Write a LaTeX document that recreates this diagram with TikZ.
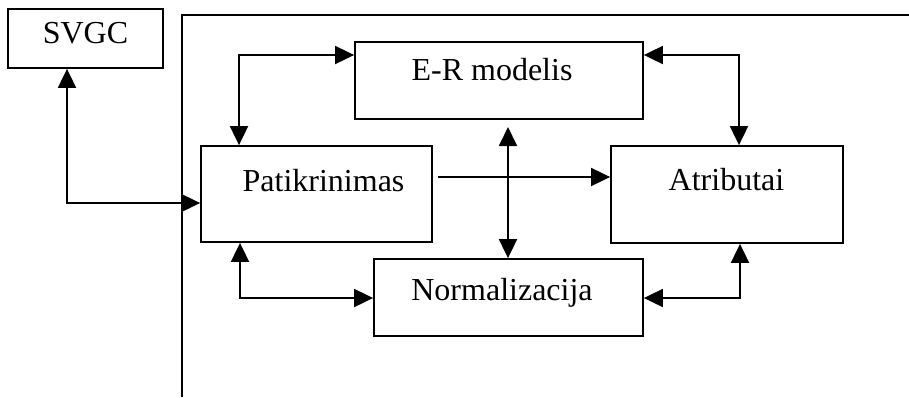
\documentclass[tikz,border=0pt]{standalone}
\usepackage{fontspec}
\setmainfont{Liberation Serif}
\usetikzlibrary{arrows.meta}
\begin{document}
\begin{tikzpicture}[x=1pt,y=-1pt,
  box/.style={draw,line width=1.8pt,rectangle,inner sep=0pt},
  lbl/.style={anchor=base,inner sep=0pt,font=\fontsize{32}{36}\selectfont},
  frame/.style={line width=2.7pt},
  link/.style={line width=1.9pt},
  tip/.tip={Triangle[length=19pt,width=18pt]},
  dbl/.style={link,tip-tip},
  one/.style={link,-tip}]
\useasboundingbox (0,0) rectangle (909,397);

% open outer frame (top and left sides only)
\draw[frame] (182,397) -- (182,15) -- (909,15);

% boxes
\node[box,minimum width=155pt,minimum height=59pt] (svgc) at (85.5,38.5) {};
\node[box,minimum width=288pt,minimum height=77pt] (er) at (499,80.5) {};
\node[box,minimum width=231pt,minimum height=96pt] (pat) at (316.5,194) {};
\node[box,minimum width=232pt,minimum height=97pt] (atr) at (727,194.5) {};
\node[box,minimum width=269pt,minimum height=77pt] (norm) at (508.5,297.5) {};

% labels
\node[lbl] (tsvgc) at (85.5,43) {SVGC};
\node[lbl] (ter) at (492,80) {E-R modelis};
\node[lbl] (tpat) at (323.5,191) {Patikrinimas};
\node[lbl] (tatr) at (726.5,190) {Atributai};
\node[lbl] (tnorm) at (502,300) {Normalizacija};

% bend points of the connectors
\coordinate (b1) at (67,203);
\coordinate (b2) at (239,55);
\coordinate (b3) at (739,55);
\coordinate (b6) at (240,298);
\coordinate (b7) at (740,298);
\coordinate (hstart) at (438,177);
\coordinate (vtop) at (508,127);

% connectors
\draw[dbl] (b1 |- svgc.south) -- (b1) -- (pat.west |- b1);
\draw[dbl] (b2 |- pat.north) -- (b2) -- (er.west |- b2);
\draw[dbl] (er.east |- b3) -- (b3) -- (b3 |- atr.north);
\draw[dbl] (b6 |- pat.south) -- (b6) -- (norm.west |- b6);
\draw[dbl] (norm.east |- b7) -- (b7) -- (b7 |- atr.south);
\draw[one] (hstart) -- (atr.west |- hstart);
\draw[dbl] (vtop) -- (vtop |- norm.north);
\end{tikzpicture}
\end{document}
